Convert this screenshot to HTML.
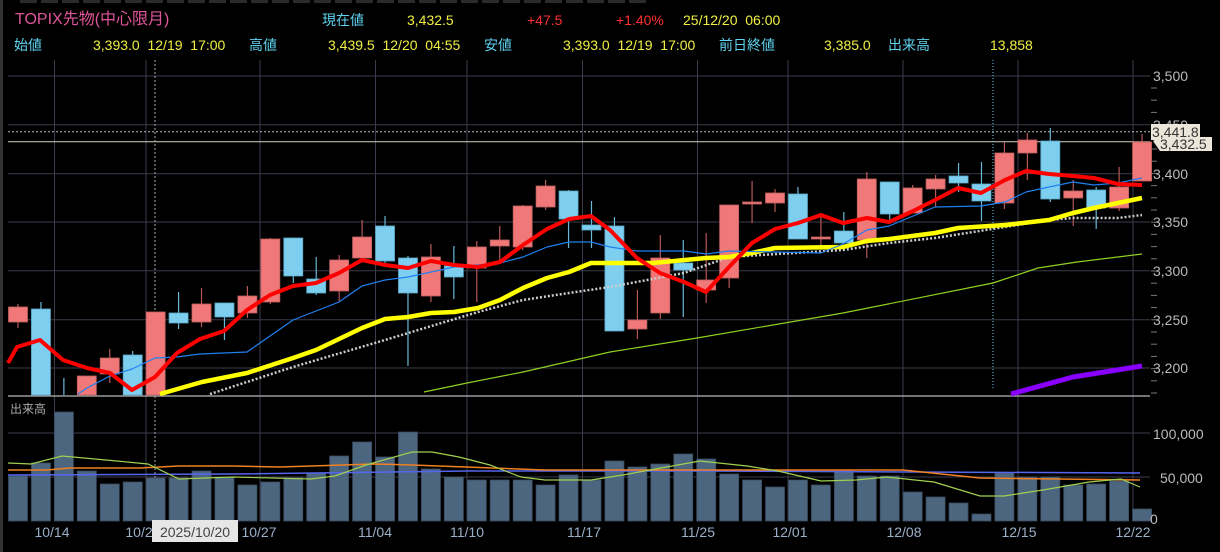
<!DOCTYPE html>
<html><head><meta charset="utf-8"><style>
html,body{margin:0;padding:0;background:#000;}
body{width:1220px;height:552px;overflow:hidden;position:relative;font-family:"Liberation Sans","Noto Sans CJK JP",sans-serif;}
.t{position:absolute;font-size:14px;white-space:pre;line-height:16px;}
.c{color:#5fd3f0}.y{color:#f0f040}.r{color:#ff3030}
</style></head><body>
<svg id="s" width="1220" height="552" style="position:absolute;left:0;top:0" xmlns="http://www.w3.org/2000/svg">
<rect x="0" y="0" width="1220" height="552" fill="#000"/>
<line x1="1.5" y1="0" x2="1.5" y2="552" stroke="#333" stroke-width="3"/>
<g id="top"></g>
<g id="grid" stroke="#3c3c4c" stroke-width="1"></g>
<g id="cd"></g>
<g id="ln" fill="none"></g>
<g id="vol"></g>
<text x="10" y="413" fill="#aaa" font-size="12" font-family="Liberation Sans,Noto Sans CJK JP,sans-serif">出来高</text>
<g fill="#bbb" font-size="14" font-family="Liberation Sans,sans-serif">
<text x="1153" y="81">3,500</text><text x="1153" y="130">3,450</text><text x="1153" y="179">3,400</text><text x="1153" y="227">3,350</text><text x="1153" y="276">3,300</text><text x="1153" y="325">3,250</text><text x="1153" y="373">3,200</text>
<text x="1153" y="439">100,000</text><text x="1160" y="483">50,000</text><text x="1150" y="524">0</text>
</g>
<rect x="1151" y="124" width="49" height="16" fill="#ece6da"/>
<polygon points="1153,141 1160,137 1212,137 1212,151 1160,151" fill="#ece6da"/>
<text x="1152" y="137" fill="#333" font-size="14" font-family="Liberation Sans,sans-serif">3,441.8</text>
<text x="1160" y="149" fill="#333" font-size="14" font-family="Liberation Sans,sans-serif">3,432.5</text>
<g fill="#9ab0c8" font-size="14" font-family="Liberation Sans,sans-serif" text-anchor="middle">
<text x="52" y="537">10/14</text><text x="139" y="537">10/2</text><text x="259" y="537">10/27</text><text x="375" y="537">11/04</text><text x="467" y="537">11/10</text><text x="584" y="537">11/17</text><text x="698" y="537">11/25</text><text x="790" y="537">12/01</text><text x="904" y="537">12/08</text><text x="1019" y="537">12/15</text><text x="1133" y="537">12/22</text>
</g>
<rect x="152" y="520" width="86" height="22" fill="#e6e6e6"/>
<text x="195" y="537" fill="#444" font-size="14" text-anchor="middle" font-family="Liberation Sans,sans-serif">2025/10/20</text>
</svg>
<div class="t" style="left:15px;top:12px;font-size:16px;color:#e0559a">TOPIX先物(中心限月)</div>
<div class="t c" style="left:322px;top:12px">現在値</div>
<div class="t y" style="left:407px;top:12px">3,432.5</div>
<div class="t r" style="left:527px;top:12px">+47.5</div>
<div class="t r" style="left:616px;top:12px">+1.40%</div>
<div class="t y" style="left:683px;top:12px">25/12/20  06:00</div>
<div class="t c" style="left:14px;top:37px">始値</div>
<div class="t y" style="left:93px;top:37px">3,393.0  12/19  17:00</div>
<div class="t c" style="left:249px;top:37px">高値</div>
<div class="t y" style="left:328px;top:37px">3,439.5  12/20  04:55</div>
<div class="t c" style="left:484px;top:37px">安値</div>
<div class="t y" style="left:563px;top:37px">3,393.0  12/19  17:00</div>
<div class="t c" style="left:719px;top:37px">前日終値</div>
<div class="t y" style="left:824px;top:37px">3,385.0</div>
<div class="t c" style="left:888px;top:37px">出来高</div>
<div class="t y" style="left:990px;top:37px">13,858</div>
<script>
var NS="http://www.w3.org/2000/svg";
function el(p,t,a){var e=document.createElementNS(NS,t);for(var k in a)e.setAttribute(k,a[k]);document.getElementById(p).appendChild(e);return e;}
// top toolbar remnants
for(var i=0;i<30;i++){el("top","rect",{x:20+i*21,y:0,width:17,height:3,fill:"#2a2a2a"});}
// grid
[76,124.7,173.7,222,270.7,319.7,368,433,477].forEach(function(y){el("grid","line",{x1:8,y1:y,x2:1150,y2:y});});
[54.5,146,260,375.5,467,582.5,697.5,788,903,1018,1133].forEach(function(x){el("grid","line",{x1:x,y1:60,x2:x,y2:521});});
el("grid","line",{x1:8,y1:396,x2:1150,y2:396,stroke:"#999","stroke-width":1.5});
for(var y=88;y<395;y+=12.2){el("grid","line",{x1:1151,y1:y,x2:1157,y2:y,stroke:"#777"});}
el("grid","line",{x1:8,y1:131.7,x2:1150,y2:131.7,stroke:"#bbb","stroke-dasharray":"2,2"});
el("grid","line",{x1:8,y1:141.7,x2:1150,y2:141.7,stroke:"#d8cfc0"});
el("grid","line",{x1:155,y1:60,x2:155,y2:521,stroke:"#aaa","stroke-dasharray":"2,2"});
el("grid","line",{x1:993,y1:60,x2:993,y2:390,stroke:"#5fd3f0","stroke-dasharray":"1,2"});
// candles: [up?, bodyTop, bodyBot, wickTop, wickBot]
var C=[[1,307,322,304,328],[0,309,395,302,395],[0,395,395,378,395],[1,376,395,376,395],[1,358,374,349,383],[0,355,395,351,395],[1,312,395,312,395],[0,313,323,292,329],[1,304,322,288,327],[0,303,317,303,340],
[1,296,313,286,318],[1,239,302,238,304],[0,238,276,238,283],[0,279,293,257,295],[1,260,291,255,302],[1,237,258,220,258],[0,226,261,216,263],[0,258,293,256,366],[1,257,296,244,302],[0,266,277,246,299],
[1,247,268,241,302],[1,240,246,226,260],[1,206,247,205,250],[1,186,207,180,210],[0,191,219,190,248],[0,225,230,201,248],[0,226,331,217,331],[1,320,329,290,339],[1,258,313,235,319],[0,263,270,240,317],
[1,280,290,233,303],[1,205,278,205,288],[1,202,204,181,223],[1,193,203,189,212],[0,194,239,187,239],[1,237,239,216,250],[0,231,243,212,243],[1,179,240,172,258],[0,182,214,182,220],[1,188,213,185,213],
[1,179,189,175,207],[0,176,183,163,192],[0,184,201,162,221],[1,153,203,142,209],[1,140,153,133,180],[0,141,199,128,202],[1,191,198,180,226],[0,190,208,187,229],[1,187,208,167,211],[1,142,181,134,181]];
C.forEach(function(c,i){var x=18+22.94*i;var col=c[0]?"#f07878":"#7ecfef";var wk=c[0]?"#b85858":"#6ab8d8";
el("cd","line",{x1:x,y1:c[3],x2:x,y2:Math.min(c[4],395),stroke:wk,"stroke-width":1.2});
var h=Math.max(c[2]-c[1],1.5);if(c[1]<395)el("cd","rect",{x:x-9.5,y:c[1],width:19,height:Math.min(h,395-c[1]),fill:col,stroke:c[0]?"#c06060":"#5aa8c8","stroke-width":0.8});});
function pl(pts,st,w,d){var a={points:pts,stroke:st,"stroke-width":w,"stroke-linejoin":"round"};if(d)a["stroke-dasharray"]=d;el("ln","polyline",a);}
pl("424,392 467,383 523,372 610,352 697,338 843,313 993,283 1038,268 1077,262 1142,254","#8fd020",1.2);
pl("1011,394 1073,377 1142,366","#8a00ff",5);
pl("210,394 293,367 385,340 478,312 523,300 569,293 610,287 684,273 729,257 843,250 889,243 935,238 1005,227 1049,220 1073,218 1118,218 1142,215","#ccc",2.5,"2,2");
pl("160,394 202,382 247,373 293,358 316,350 339,339 362,328 385,319 408,317 431,313 454,312 478,308 500,300 523,288 547,278 569,272 591,263 653,263 706,258 729,257 752,253 775,248 843,247 867,241 889,239 935,233 958,228 1005,225 1049,220 1073,213 1094,208 1118,203 1142,198","#ffff00",4.5);
pl("78,394 87,388 110,376 132,369 155,358 177,357 200,354 247,352 293,320 339,302 362,286 385,280 408,277 431,272 454,267 500,263 523,257 547,247 569,242 591,242 610,247 637,251 684,251 706,254 729,251 775,252 821,253 843,244 867,230 889,226 935,207 981,206 1005,202 1026,192 1049,187 1073,182 1094,185 1118,183 1142,178","#2080f0",1.2);
pl("8,363 17,347 40,340 63,360 87,368 110,373 132,390 155,377 177,353 200,339 224,331 247,310 270,295 293,286 316,283 339,273 362,260 385,265 408,268 431,261 454,265 478,267 500,262 523,245 547,229 569,219 591,216 610,230 637,258 660,273 684,282 706,292 729,267 752,243 775,229 798,223 821,215 843,223 867,218 889,222 911,212 935,200 958,188 981,193 1005,180 1026,171 1049,174 1073,176 1094,178 1118,184 1142,185","#ff0000",4);
// volume
var V=[476,463,412,471,484,482,478,478,471,477,485,482,478,473,456,442,457,432,469,477,480,480,480,485,475,480,461,467,464,454,459,474,480,487,480,485,471,476,476,492,497,503,514,473,477,477,485,484,481,509];
V.forEach(function(v,i){var x=18+22.94*i;el("vol","rect",{x:x-9.5,y:v,width:19,height:521-v,fill:"#4d6680",stroke:"#3a4c60","stroke-width":0.8});});
function vl(pts,st,w){var e=el("vol","polyline",{points:pts,stroke:st,"stroke-width":w,fill:"none"});}
vl("8,475 233,474 467,471 700,471 1140,473","#5566ee",1.5);
vl("8,470 47,470 70,468 140,468 179,466 233,466 280,467 374,464 412,465 545,470 700,470 903,470 980,478 1140,480","#f08020",1.5);
vl("8,463 31,464 62,456 117,461 148,464 179,479 233,477 311,479 335,476 366,465 412,452 432,452 459,457 490,465 521,477 545,480 591,480 623,475 661,468 700,461 747,466 778,471 821,481 856,480 887,477 934,482 980,496 1004,496 1043,490 1089,482 1121,479 1140,487","#a0d050",1.2);
</script>
</body></html>
